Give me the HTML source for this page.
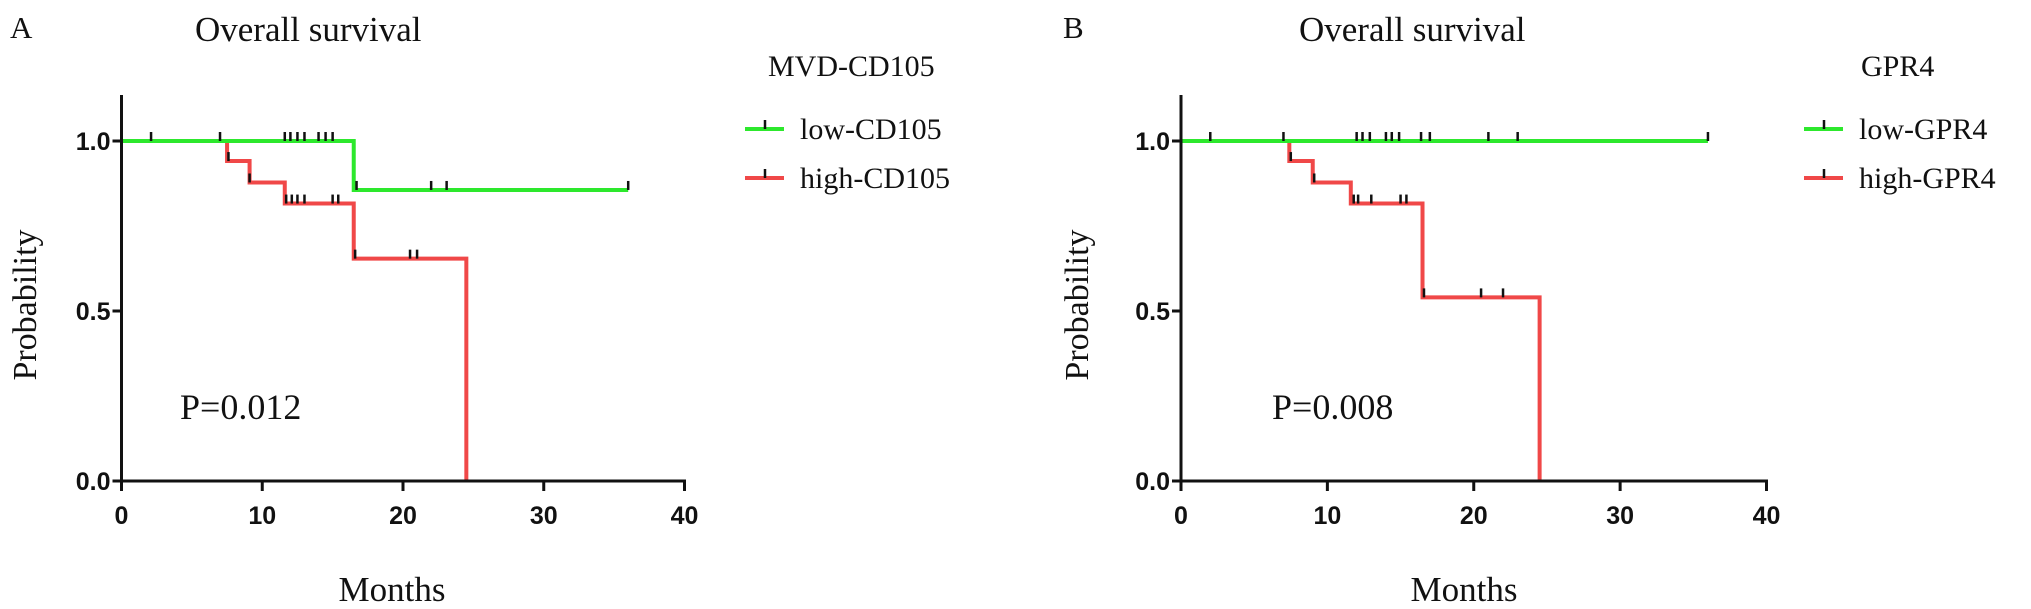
<!DOCTYPE html>
<html><head><meta charset="utf-8"><style>
html,body{margin:0;padding:0;background:#fff}
svg{display:block}
.serif{font-family:"Liberation Serif",serif;fill:#111}
.tick{font-family:"Liberation Sans",sans-serif;font-weight:bold;fill:#111;font-size:25px}
</style></head><body>
<svg id="chart" width="2031" height="609" viewBox="0 0 2031 609" xmlns="http://www.w3.org/2000/svg"></svg>
<script>
// Panel A data
const aLowSteps = [[0,1.0],[16.5,0.856]];
const aLowCensor = [[2.1,1.0],[7.0,1.0],[11.6,1.0],[12.0,1.0],[12.5,1.0],[13.0,1.0],[14.0,1.0],[14.5,1.0],[15.0,1.0],[16.7,0.856],[22.0,0.856],[23.1,0.856],[36.0,0.856]];
const aLowEnd = 36;
const aHighSteps = [[0,1.0],[7.5,0.941],[9.1,0.878],[11.6,0.816],[16.5,0.654],[24.5,0.0]];
const aHighCensor = [[7.6,0.941],[9.1,0.878],[11.7,0.816],[12.1,0.816],[12.5,0.816],[13.0,0.816],[15.0,0.816],[15.4,0.816],[16.6,0.654],[20.5,0.654],[21.0,0.654]];
const aHighEnd = 24.5;
// Panel B data
const bLowSteps = [[0,1.0]];
const bLowCensor = [[2.0,1.0],[7.0,1.0],[12.0,1.0],[12.4,1.0],[12.9,1.0],[14.0,1.0],[14.4,1.0],[14.9,1.0],[16.4,1.0],[17.0,1.0],[21.0,1.0],[23.0,1.0],[36.0,1.0]];
const bLowEnd = 36;
const bHighSteps = [[0,1.0],[7.4,0.941],[9.0,0.878],[11.6,0.816],[16.5,0.54],[24.5,0.0]];
const bHighCensor = [[7.5,0.941],[9.1,0.878],[11.8,0.816],[12.1,0.816],[13.0,0.816],[15.0,0.816],[15.4,0.816],[16.6,0.54],[20.5,0.54],[22.0,0.54]];
const bHighEnd = 24.5;
const xTicks = [0,10,20,30,40];
const yTicks = [0.0,0.5,1.0];
const yTickLabels = ["0.0","0.5","1.0"];

const NS="http://www.w3.org/2000/svg";
const svg=document.getElementById('chart');
function mk(tag,attrs,parent){const e=document.createElementNS(NS,tag);for(const k in attrs)e.setAttribute(k,attrs[k]);(parent||svg).appendChild(e);return e;}

function panel(p){
  const g=mk('g',{});
  
  
  const X=v=>p.x0+(p.x40-p.x0)*v/40;
  const Y=v=>p.y0+(p.y1-p.y0)*v;
  function curve(steps,end,censor,color,name){
    let d='M'+X(steps[0][0])+','+Y(steps[0][1]);
    for(let i=1;i<steps.length;i++){d+=' H'+X(steps[i][0])+' V'+Y(steps[i][1]);}
    d+=' H'+X(end);
    const pth=mk('path',{d:d,fill:'none',stroke:color,'stroke-width':4},g);
    
    
    censor.forEach(c=>{
      const m=mk('line',{x1:X(c[0]),y1:Y(c[1])-9,x2:X(c[0]),y2:Y(c[1]),stroke:'#111','stroke-width':2.5},g);
      
      
    });
  }
  curve(p.highSteps,p.highEnd,p.highCensor,'#f04848','high');
  curve(p.lowSteps,p.lowEnd,p.lowCensor,'#2de82d','low');
  const ya=mk('line',{x1:p.x0,y1:95,x2:p.x0,y2:p.y0+1.5,stroke:'#111','stroke-width':3},g);
  
  
  const xa=mk('line',{x1:p.x0-1.5,y1:p.y0,x2:p.x40+1.5,y2:p.y0,stroke:'#111','stroke-width':3},g);
  
  
  xTicks.forEach(t=>{
    mk('line',{x1:X(t),y1:p.y0,x2:X(t),y2:p.y0+10,stroke:'#111','stroke-width':3},g);
    const tx=mk('text',{x:X(t),y:p.y0+43,'text-anchor':'middle',class:'tick'},g);
    tx.textContent=t;
    
    
  });
  yTicks.forEach((t,i)=>{
    mk('line',{x1:p.x0-9,y1:Y(t),x2:p.x0,y2:Y(t),stroke:'#111','stroke-width':3},g);
    const tx=mk('text',{x:p.x0-11,y:Y(t)+9,'text-anchor':'end',class:'tick'},g);
    tx.textContent=yTickLabels[i];
    
    
  });
  const T=(txt,x,y,size,name,anchor,extra)=>{const e=mk('text',Object.assign({x:x,y:y,'font-size':size,class:'serif','text-anchor':anchor||'start'},extra||{}),g);e.textContent=txt;return e;};
  T(p.letter,p.lx,38,31,'panel-letter');
  T('Overall survival',p.tx,41,35,'chart-title');
  T(p.legTitle,p.legTx,76,30,'legend-title');
  T(p.pval,p.px,419,36,'p-value');
  T('Months',p.mx,601,35,'x-axis-title','middle');
  T('Probability',p.yx,305,34,'y-axis-title','middle',{transform:'rotate(-90 '+p.yx+' 305)'});
  [['low','#2de82d',129],['high','#f04848',178]].forEach(([k,c,y])=>{
    const le=mk('g',{},g);
    
    
    mk('line',{x1:p.legLx,y1:y,x2:p.legLx+39,y2:y,stroke:c,'stroke-width':4},le);
    mk('line',{x1:p.legLx+20,y1:y-9,x2:p.legLx+20,y2:y,stroke:'#111','stroke-width':2.5},le);
    const t=mk('text',{x:p.legLx+55,y:y+10,'font-size':30,class:'serif'},le);
    t.textContent=k+'-'+p.legSuffix;
  });
}
panel({id:'a',x0:121.5,x40:684.5,y0:481,y1:141,lowSteps:aLowSteps,lowEnd:aLowEnd,lowCensor:aLowCensor,highSteps:aHighSteps,highEnd:aHighEnd,highCensor:aHighCensor,
  letter:'A',lx:10,tx:195,legTitle:'MVD-CD105',legTx:768,pval:'P=0.012',px:180,mx:392,yx:36,legLx:745,legSuffix:'CD105'});
panel({id:'b',x0:1181,x40:1766.5,y0:481,y1:141,lowSteps:bLowSteps,lowEnd:bLowEnd,lowCensor:bLowCensor,highSteps:bHighSteps,highEnd:bHighEnd,highCensor:bHighCensor,
  letter:'B',lx:1063,tx:1299,legTitle:'GPR4',legTx:1861,pval:'P=0.008',px:1272,mx:1464,yx:1088,legLx:1804,legSuffix:'GPR4'});
</script>
</body></html>
